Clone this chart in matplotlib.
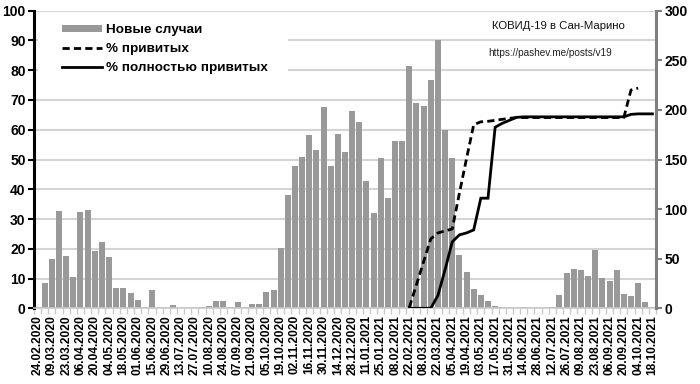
import numpy as np
import matplotlib
matplotlib.use("Agg")
import matplotlib.pyplot as plt
from matplotlib.patches import Rectangle
from matplotlib.lines import Line2D
from matplotlib.patches import Patch

plt.rcParams['font.family'] = ['Liberation Sans', 'DejaVu Sans']

# weekly categories (87 weeks, 24.02.2020 .. 18.10.2021); labels every 2nd week
tick_labels = [
    "24.02.2020", "09.03.2020", "23.03.2020", "06.04.2020", "20.04.2020", "04.05.2020",
    "18.05.2020", "01.06.2020", "15.06.2020", "29.06.2020", "13.07.2020", "27.07.2020",
    "10.08.2020", "24.08.2020", "07.09.2020", "21.09.2020", "05.10.2020", "19.10.2020",
    "02.11.2020", "16.11.2020", "30.11.2020", "14.12.2020", "28.12.2020", "11.01.2021",
    "25.01.2021", "08.02.2021", "22.02.2021", "08.03.2021", "22.03.2021", "05.04.2021",
    "19.04.2021", "03.05.2021", "17.05.2021", "31.05.2021", "14.06.2021", "28.06.2021",
    "12.07.2021", "26.07.2021", "09.08.2021", "23.08.2021", "06.09.2021", "20.09.2021",
    "04.10.2021", "18.10.2021",
]

new_cases = [
    0.5, 8.6, 16.7, 32.8, 17.7, 10.4, 32.4, 33.0, 19.4, 22.4,
    17.4, 6.7, 6.7, 5.0, 2.7, 0.0, 6.0, 0.0, 0.0, 1.0,
    0.0, 0.0, 0.0, 0.3, 0.7, 2.4, 2.4, 0.6, 2.0, 0.3,
    1.4, 1.4, 5.5, 6.0, 20.2, 38.1, 47.8, 50.8, 58.1, 53.1,
    67.7, 47.7, 58.5, 52.4, 66.4, 62.5, 42.8, 32.1, 50.5, 37.1,
    56.1, 56.1, 81.5, 68.9, 68.1, 76.8, 90.1, 59.9, 50.4, 18.0,
    12.3, 6.4, 4.4, 2.6, 0.8, 0.3, 0.0, 0.0, 0.3, 0.0,
    0.2, 0.0, 0.6, 4.6, 11.7, 13.3, 12.9, 11.0, 19.6, 10.3,
    9.2, 12.9, 4.9, 4.3, 8.6, 2.2, 0.6,
]

nan = np.nan
vaccinated = [nan] * 52 + [
    1, 24, 47, 70, 76, 78, 80, 116, 151, 185,
    188, 188.5, 189.5, 190.5, 191.5, 192.3, 192.3, 192.3, 192.3, 192.3,
    192.3, 192.3, 192.3, 192.3, 192.3, 192.3, 192.3, 192.3, 192.3, 192.3,
    192.3, 220, 222, nan, nan,
]

fully_vaccinated = [nan] * 52 + [
    0, 0, 0, 0, 13, 39, 67, 74, 76, 79,
    111, 111, 182.5, 186.5, 189.5, 192.5, 193, 193, 193, 193,
    193, 193, 193, 193, 193, 193, 193, 193, 193, 193,
    193, 195.5, 196, 196, 196,
]

legend_labels = ["Новые случаи", "% привитых", "% полностью привитых"]
title_text = "КОВИД-19 в Сан-Марино"
url_text = "https://pashev.me/posts/v19"

n = len(new_cases)
x = np.arange(n)

fig = plt.figure(figsize=(7.0, 3.84), dpi=100)
ax = fig.add_axes([34 / 700, 1 - 308.3 / 384, 622 / 700, 297.6 / 384])
ax2 = ax.twinx()

grid_color = "#d4d4d4"
ax.set_axisbelow(True)
ax.yaxis.grid(True, color=grid_color, linewidth=1.5)
ax.bar(x, new_cases, width=0.84, color="#999999", edgecolor="none", zorder=2)

ax.set_xlim(-0.5, n - 0.5)
ax.set_ylim(0, 100)
ax.set_yticks(np.arange(0, 101, 10))

dash = (0, (2.6, 1.5))
ax2.plot(x, vaccinated, color="black", linewidth=2.0, linestyle=dash,
         dash_capstyle="butt")
ax2.plot(x, fully_vaccinated, color="black", linewidth=2.0, solid_joinstyle="miter")
ax2.set_ylim(0, 300)
ax2.set_yticks(np.arange(0, 301, 50))
ax2.set_xlim(-0.5, n - 0.5)

# x ticks
ax.set_xticks(x[::2])
ax.set_xticklabels(tick_labels, rotation=90, fontsize=8.6, fontweight="bold")
ax.set_xticks(np.arange(-0.5, n, 1), minor=True)
ax.tick_params(axis="x", which="major", length=0, pad=5)
ax.tick_params(axis="x", which="minor", length=4, color="#c8c8c8", width=1)

ax.tick_params(axis="y", which="major", length=4, width=1.5, color="black",
               labelsize=10, pad=2)
for lab in ax.get_yticklabels():
    lab.set_fontweight("bold")
ax2.tick_params(axis="y", which="major", length=4, width=1.5, color="#7f7f7f",
                labelsize=10, pad=2)
for lab in ax2.get_yticklabels():
    lab.set_fontweight("bold")

for sp in ["top"]:
    ax.spines[sp].set_visible(False)
    ax2.spines[sp].set_visible(False)
ax.spines["left"].set_linewidth(2.2)
ax.spines["left"].set_color("black")
ax2.spines["left"].set_visible(False)
ax.spines["right"].set_visible(False)
ax2.spines["right"].set_linewidth(2.2)
ax2.spines["right"].set_color("#7f7f7f")
ax.spines["bottom"].set_color("#c8c8c8")
ax.spines["bottom"].set_linewidth(1.2)
ax2.spines["bottom"].set_visible(False)

# white legend area
ax2.add_patch(Rectangle((4 / 622, 0.767), (288 - 38) / 622, 0.2, transform=ax2.transAxes,
                        facecolor="white", edgecolor="none", zorder=3))

handles = [
    Patch(facecolor="#999999", edgecolor="none"),
    Line2D([], [], color="black", linewidth=2.0, linestyle=dash),
    Line2D([], [], color="black", linewidth=2.0),
]
leg = ax2.legend(handles, legend_labels, loc="upper left",
                 bbox_to_anchor=(62 / 700, 1 - 24.5 / 384), bbox_transform=fig.transFigure,
                 frameon=False, borderpad=0, borderaxespad=0, handlelength=3.0,
                 handleheight=0.45, handletextpad=0.3, labelspacing=0.5,
                 prop={"size": 9.7, "weight": "bold"})
leg.set_zorder(5)

ax2.text(558 / 700, 1 - 26 / 384, title_text, transform=fig.transFigure,
         ha="center", va="center", fontsize=8.2, color="#111111")
ax2.text(550 / 700, 1 - 53 / 384, url_text, transform=fig.transFigure,
         ha="center", va="center", fontsize=7.2, color="#222222")

fig.savefig("out.png", dpi=100)
